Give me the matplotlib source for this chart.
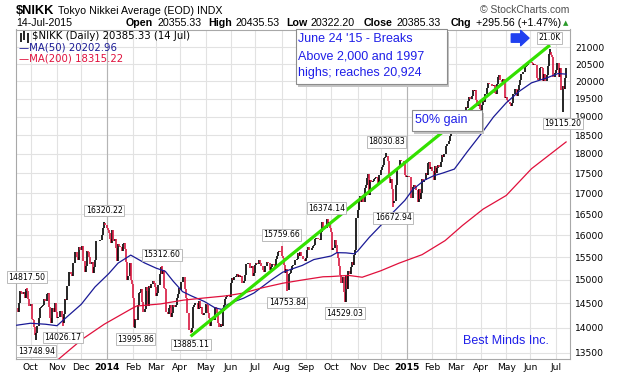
import numpy as np
import pandas as pd
import matplotlib
matplotlib.use('Agg')
import matplotlib.pyplot as plt
from matplotlib.patches import Rectangle

# daily closes of $NIKK (one row per month)
close_2013 = [
    14404, 14311, 14505, 14766, 14742, 14700, 14732, 14620, 14799, 14760, 14600, 14455,  # Sep (from 13th)
    14485, 14170, 14157, 14024, 13853, 13894, 14037, 14194, 14404, 14420, 14441, 14467,
    14586, 14561, 14693, 14713, 14426, 14200, 14088, 14396, 14325, 14502, 14327,  # Oct
    14201, 14210, 14225, 14337, 14228, 14086, 14270, 14589, 14567, 14876, 15165, 15164,
    15126, 15076, 15366, 15382, 15619, 15515, 15450, 15727, 15662,  # Nov
    15655, 15749, 15407, 15177, 15299, 15650, 15611, 15515, 15341, 15403, 15152, 15278,
    15433, 15859, 15870, 15880, 15889, 15895, 16009, 16178, 16291, 16250,  # Dec
]
close_2014 = [
    16180, 16120, 16060, 15908, 15814, 16121, 15880, 15912, 15700, 15422, 15808, 15747,
    15734, 15641, 15795, 15820, 15695, 15391, 15006, 15094, 15383, 15007, 14914,  # Jan
    14619, 14008, 14180, 14155, 14462, 14718, 14750, 14800, 14535, 14313, 14393, 14843,
    14766, 14449, 14865, 14837, 14923, 14970, 14924, 14841,  # Feb
    14652, 14721, 14897, 15134, 15274, 15120, 15224, 14830, 14816, 14327, 14278, 14411,
    14463, 14224, 14300, 14475, 14423, 14477, 14622, 14696, 14827,  # Mar
    14791, 14946, 15071, 15063, 14809, 14607, 14300, 14299, 13960, 13910, 13997, 14417,
    14460, 14516, 14512, 14388, 14546, 14404, 14429, 14288, 14260, 14304,  # Apr
    14485, 14457, 14300, 14200, 14033, 14163, 14199, 14149, 14425, 14405, 14298, 14097,
    14006, 14075, 14042, 14338, 14462, 14602, 14636, 14670, 14681, 14632,  # May
    14935, 15034, 14999, 15069, 15077, 15124, 15069, 15098, 15069, 15097, 14933, 14975,
    15115, 15361, 15349, 15369, 15376, 15266, 15308, 15095, 15162,  # Jun
    15326, 15369, 15348, 15437, 15379, 15314, 15302, 15216, 15164, 15297, 15395, 15379,
    15370, 15215, 15280, 15343, 15329, 15284, 15457, 15529, 15618, 15646, 15620,  # Jul
    15523, 15474, 15320, 15159, 15232, 14778, 15130, 15161, 15213, 15314, 15318, 15322,
    15449, 15454, 15586, 15539, 15613, 15521, 15534, 15459, 15424,  # Aug
    15476, 15668, 15728, 15676, 15668, 15705, 15749, 15788, 15909, 15948, 15930, 15911,
    15888, 16067, 16321, 16205, 16190, 16167, 16374, 16229, 16310, 16173,  # Sep
    16082, 15661, 15709, 15891, 15784, 15595, 15479, 15300, 15100, 14936, 15074, 14739,
    14533, 15112, 14805, 15196, 15139, 15292, 15389, 15330, 15554, 15659, 16414,  # Oct
    16600, 16863, 16937, 16793, 16880, 16781, 17124, 17197, 17392, 17490, 16973, 17344,
    17288, 17300, 17357, 17380, 17407, 17383, 17249, 17459,  # Nov
    17590, 17663, 17720, 17888, 17920, 17935, 17813, 17412, 17257, 17371, 17099, 16756,
    16819, 17210, 17621, 17635, 17700, 17854, 17808, 17818, 17730, 17451, 17420,  # Dec
]
close_2015 = [
    17440, 17430, 17408, 16883, 16885, 17167, 17198, 17150, 17088, 16796, 17109, 16864,
    17015, 17366, 17281, 17330, 17512, 17469, 17768, 17796, 17607, 17674,  # Jan
    17558, 17335, 17678, 17504, 17649, 17711, 17652, 17800, 17979, 17913, 18004, 17987,
    18199, 18264, 18332, 18466, 18603, 18585, 18785, 18797,  # Feb
    18826, 18815, 18703, 18751, 18971, 18790, 18665, 18723, 18991, 19254, 19246, 19437,
    19544, 19476, 19560, 19754, 19713, 19746, 19471, 19286, 19411, 19207,  # Mar
    19034, 19312, 19435, 19397, 19640, 19790, 19937, 19908, 19905, 19908, 19870, 19886,
    19653, 19634, 19910, 20133, 20187, 20020, 19983, 20058, 20000, 19520,  # Apr
    19532, 19450, 19400, 19350, 19292, 19379, 19621, 19625, 19765, 19570, 19733, 19890,
    20026, 20196, 20202, 20264, 20413, 20437, 20473, 20551, 20563,  # May
    20569, 20543, 20473, 20488, 20460, 20457, 20096, 20046, 20382, 20407, 20387, 19990,
    20219, 19990, 20174, 20428, 20809, 20868, 20771, 20706, 20110, 20236,  # Jun
    20329, 20522, 20540, 20112, 20376, 19738, 19855, 19780, 20090, 20385,  # Jul
]

# labelled highs / lows
label_dates = ['2013-09-26', '2013-10-08', '2013-11-08', '2013-12-30', '2014-02-05',
               '2014-03-10', '2014-04-14', '2014-08-01', '2014-08-08', '2014-09-25',
               '2014-10-17', '2014-12-08', '2014-12-16', '2015-07-09']
label_values = [14817.50, 13748.94, 14026.17, 16320.22, 13995.86, 15312.60, 13885.11,
                15759.66, 14753.84, 16374.14, 14529.03, 18030.83, 16672.94, 19115.20]
label_sides = ['high', 'low', 'low', 'high', 'low', 'high', 'low',
               'high', 'low', 'high', 'low', 'high', 'low', 'low']
top_date = '2015-06-24'
top_value = 20952.71
top_text = '21.0K'

# moving averages
ma50_dates = ['2013-09-13', '2013-10-01', '2013-10-18', '2013-11-01', '2013-11-17', '2013-12-01',
              '2013-12-18', '2014-01-03', '2014-01-15', '2014-01-30', '2014-02-16', '2014-03-01',
              '2014-03-13', '2014-03-22', '2014-04-03', '2014-04-15', '2014-04-30', '2014-05-13',
              '2014-05-21', '2014-05-28', '2014-06-05', '2014-06-17', '2014-06-28', '2014-07-09',
              '2014-07-21', '2014-08-02', '2014-08-15', '2014-08-27', '2014-09-10', '2014-10-01',
              '2014-10-08', '2014-10-20', '2014-10-29', '2014-11-03', '2014-11-15', '2014-11-28',
              '2014-12-15', '2014-12-30', '2015-01-08', '2015-01-22', '2015-02-03', '2015-02-13',
              '2015-02-27', '2015-03-15', '2015-04-01', '2015-04-16', '2015-05-01', '2015-05-18',
              '2015-06-02', '2015-06-19', '2015-07-03', '2015-07-14']
ma50_values = [14050, 14090, 14070, 14040, 14270, 14480,
               14850, 15140, 15370, 15550, 15375, 15260,
               15190, 14970, 14750, 14655, 14540, 14410,
               14375, 14475, 14540, 14610, 14720, 14850,
               15000, 15170, 15250, 15320, 15450, 15530,
               15605, 15600, 15580, 15640, 15950, 16200,
               16520, 16830, 17100, 17330, 17440, 17510,
               17610, 18050, 18520, 18990, 19380, 19700,
               19950, 20090, 20220, 20203]
ma200_dates = ['2013-11-04', '2013-12-03', '2013-12-30', '2014-01-30', '2014-02-06', '2014-03-07',
               '2014-04-04', '2014-04-30', '2014-05-27', '2014-06-17', '2014-07-09', '2014-08-02',
               '2014-08-27', '2014-09-20', '2014-10-01', '2014-10-22', '2014-11-07', '2014-12-01',
               '2014-12-23', '2015-01-20', '2015-02-17', '2015-03-10', '2015-04-03', '2015-05-01',
               '2015-06-02', '2015-07-14']
ma200_values = [13370, 13770, 14070, 14380, 14445, 14490,
                14570, 14615, 14660, 14720, 14830, 14930,
                15000, 15070, 15075, 15100, 15060, 15200,
                15370, 15560, 15880, 16230, 16620, 16950,
                17620, 18315]

trend_dates = ['2014-04-14', '2015-06-24']
trend_values = [13825, 21070]

y_ticks = list(range(13500, 21001, 500))

closes = np.array(close_2013 + close_2014 + close_2015, dtype=float)
dates = pd.bdate_range('2013-09-13', periods=len(closes))
x = np.arange(len(closes))


def pos(ds):
    return dates.searchsorted(pd.to_datetime(ds))


prev = np.r_[closes[0], closes[:-1]]
lo = np.minimum(prev, closes)
hi = np.maximum(prev, closes)
for d, v, s in zip(label_dates + [top_date], label_values + [top_value], label_sides + ['high']):
    i = pos([d])[0]
    if s == 'high':
        hi[i] = max(hi[i], v)
    else:
        lo[i] = min(lo[i], v)
bar_colors = np.where(closes >= prev, 'black', '#d81840')

fig = plt.figure(figsize=(6.17, 3.74), dpi=100)
ax = fig.add_axes([16 / 617, 15 / 374, 554 / 617, 329.5 / 374])

ax.vlines(x, lo, hi, colors=bar_colors, lw=1.2, zorder=3)
ax.plot(pos(ma50_dates), ma50_values, color='#1a1a96', lw=0.9, zorder=4)
ax.plot(pos(ma200_dates), ma200_values, color='#e0103c', lw=0.9, zorder=4)
ax.plot(pos(trend_dates), trend_values, color='#33e000', lw=2.3, zorder=5, solid_capstyle='butt')

ax.set_yscale('log')
ax.set_ylim(13380, 21550)
ax.set_xlim(-0.6, 480.4)
ax.yaxis.set_minor_locator(matplotlib.ticker.NullLocator())
ax.set_yticks(y_ticks)
ax.set_yticklabels([str(v) for v in y_ticks])
ax.yaxis.tick_right()

month_start = [i for i in range(1, len(dates)) if dates[i].month != dates[i - 1].month]
month_lbl = [dates[i].strftime('%Y') if dates[i].month == 1 else dates[i].strftime('%b') for i in month_start]
ax.set_xticks(month_start)
ax.set_xticklabels(month_lbl)
for t in ax.get_xticklabels():
    if t.get_text().isdigit():
        t.set_fontweight('bold')
        t.set_fontsize(7.2)
ax.tick_params(axis='both', length=0, labelsize=6.6, colors='black')
ax.tick_params(axis='y', pad=3.5)
ax.tick_params(axis='x', pad=3)
ax.grid(True, color='#e2e2e2', lw=0.8)
ax.set_axisbelow(True)
for i in month_start:
    if dates[i].month == 1:
        ax.axvline(i, color='#b4b4b4', lw=0.8, zorder=1)
for sp in ax.spines.values():
    sp.set_color('#a8a8a8')
    sp.set_linewidth(0.8)

# labels on highs / lows
for d, v, s in zip(label_dates, label_values, label_sides):
    i = pos([d])[0]
    ax.annotate('%.2f' % v, (i, v), xytext=(0, 8 if s == 'high' else -8),
                textcoords='offset points', ha='center', va='center', fontsize=5.6,
                bbox=dict(boxstyle='square,pad=0.18', fc='white', ec='#b0b0b0', lw=0.6), zorder=7)
ax.annotate(top_text, (pos([top_date])[0], top_value), xytext=(0, 8), textcoords='offset points',
            ha='center', va='center', fontsize=5.6,
            bbox=dict(boxstyle='square,pad=0.18', fc='white', ec='#b0b0b0', lw=0.6), zorder=7)
ax.annotate('', xy=(0.926, 0.974), xytext=(0.894, 0.974), xycoords='axes fraction',
            arrowprops=dict(arrowstyle='simple,head_width=1.1,head_length=0.6,tail_width=0.6',
                            color='#2040f0', shrinkA=0, shrinkB=0), zorder=8)

# note boxes
blue = '#1f1fe8'
for (x0, y0, x1, y1) in [(0.505, 0.835, 0.778, 1.0), (0.715, 0.692, 0.841, 0.756)]:
    ax.add_patch(Rectangle((x0 + 0.004, y0 - 0.008), x1 - x0, y1 - y0, transform=ax.transAxes,
                           fc='#c4c4c4', ec='none', zorder=8, clip_on=False))
    ax.add_patch(Rectangle((x0, y0), x1 - x0, y1 - y0, transform=ax.transAxes,
                           fc='white', ec='#8c8c8c', lw=0.8, zorder=9, clip_on=False))
for yy, s in zip([0.970, 0.919, 0.868], ["June 24 '15 - Breaks", 'Above 2,000 and 1997', 'highs; reaches 20,924']):
    ax.text(0.509, yy, s, transform=ax.transAxes, color=blue, fontsize=9.0,
            family='Liberation Sans', va='center', zorder=10)
ax.text(0.721, 0.724, '50% gain', transform=ax.transAxes, color=blue, fontsize=9.0,
        family='Liberation Sans', va='center', zorder=10)
ax.text(0.807, 0.056, 'Best Minds Inc.', transform=ax.transAxes, color=blue, fontsize=9.0,
        family='Liberation Sans', va='center', zorder=10)

# legend inside the plot
ax.vlines([0.009, 0.015, 0.021], [0.962, 0.968, 0.960], [0.990, 0.996, 0.988],
          transform=ax.transAxes, color='black', lw=1.2, zorder=10)
ax.text(0.029, 0.980, '$NIKK (Daily) 20385.33 (14 Jul)', transform=ax.transAxes,
        fontsize=7.3, va='center', zorder=10)
ax.text(0.005, 0.946, '\u2014MA(50) 20202.96', transform=ax.transAxes, color='#1a1a96',
        fontsize=7.3, va='center', zorder=10)
ax.text(0.005, 0.912, '\u2014MA(200) 18315.22', transform=ax.transAxes, color='#e0103c',
        fontsize=7.3, va='center', zorder=10)

# header
hf = 'Liberation Sans'
fig.text(16 / 617, 1 - 11 / 374, '$NIKK', fontsize=9.2, fontweight='bold', family=hf, va='center')
fig.text(58 / 617, 1 - 11 / 374, 'Tokyo Nikkei Average (EOD) INDX', fontsize=7.7, family=hf, va='center')
fig.text(16 / 617, 1 - 23 / 374, '14-Jul-2015', fontsize=7.7, family=hf, va='center')
fig.text(569 / 617, 1 - 10 / 374, '\u00a9 StockCharts.com', fontsize=7.5, family=hf, va='center',
         ha='right', color='#505050')
segs = [(125.7, 'Open', 'bold'), (157.7, '20355.33', 'normal'), (208, 'High', 'bold'),
        (235.7, '20435.53', 'normal'), (286, 'Low', 'bold'), (310.7, '20322.20', 'normal'),
        (364, 'Close', 'bold'), (396.7, '20385.33', 'normal'), (450.7, 'Chg', 'bold'),
        (476, '+295.56 (+1.47%)', 'normal')]
for px, s, w in segs:
    fig.text(px / 617, 1 - 23 / 374, s, fontsize=7.7, fontweight=w, family=hf, va='center')
fig.text(563 / 617, 1 - 23 / 374, '\u25b2', fontsize=5, color='#2a9a2a', va='center')

fig.savefig('out.png', dpi=100)
